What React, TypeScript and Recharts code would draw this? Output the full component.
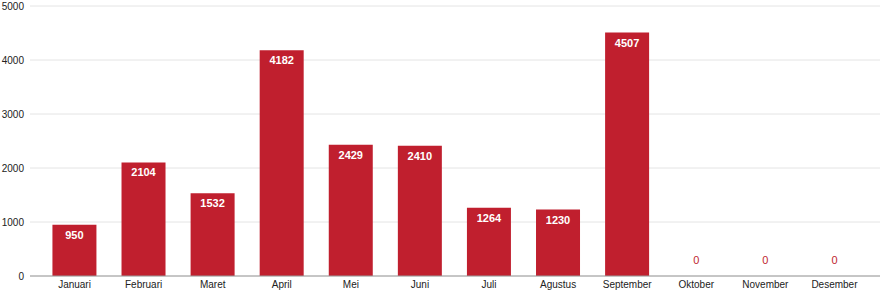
import React from 'react';
import { ComposedChart, Bar, Line, XAxis, YAxis, CartesianGrid, LabelList } from 'recharts';

const months = [
  'Januari', 'Februari', 'Maret', 'April', 'Mei', 'Juni',
  'Juli', 'Agustus', 'September', 'Oktober', 'November', 'Desember',
];
const totals = [950, 2104, 1532, 4182, 2429, 2410, 1264, 1230, 4507, 0, 0, 0];
const yTicks = [0, 1000, 2000, 3000, 4000, 5000];

const BAR_COLOR = '#c01f2e';
const FONT = '"Liberation Sans", Arial, sans-serif';

const chartData = months.map((name, i) => ({ name, total: totals[i] }));

// white label inside the top of each bar
const BarLabel = (props: any) => {
  const { x, y, width, value } = props;
  if (!value) return null;
  return (
    <text x={x + width / 2} y={y + 14} textAnchor="middle" fill="#ffffff" fontSize={11} fontWeight="bold" fontFamily={FONT}>
      {value}
    </text>
  );
};

// zero bars have no rect, so their label is hung on an invisible line
const ZeroLabel = (props: any) => {
  const { x, y, value } = props;
  if (value !== 0) return null;
  return (
    <text x={x} y={y - 12} textAnchor="middle" fill={BAR_COLOR} fontSize={11} fontFamily={FONT}>
      {value}
    </text>
  );
};

export default function App() {
  return (
    <div style={{ position: 'absolute', left: 0, top: 0, background: '#fff' }}>
      <ComposedChart
        width={880}
        height={295}
        data={chartData}
        margin={{ top: 6, right: 0, bottom: 0, left: 0 }}
        barCategoryGap="18%"
      >
        <CartesianGrid vertical={false} stroke="#e4e4e4" />
        <XAxis
          dataKey="name"
          height={19}
          padding={{ left: 10, right: 11 }}
          tickLine={false}
          tickSize={0}
          tickMargin={5}
          axisLine={{ stroke: '#9a9a9a' }}
          tick={{ fontSize: 10, fill: '#222', fontFamily: FONT }}
          interval={0}
        />
        <YAxis
          width={30}
          domain={[0, 5000]}
          ticks={yTicks}
          tickLine={false}
          axisLine={false}
          tickSize={0}
          tickMargin={6}
          tick={{ fontSize: 10, fill: '#222', fontFamily: FONT }}
        />
        <Bar dataKey="total" fill={BAR_COLOR} isAnimationActive={false}>
          <LabelList dataKey="total" content={BarLabel} />
        </Bar>
        <Line dataKey="total" stroke="none" dot={false} activeDot={false} isAnimationActive={false}>
          <LabelList dataKey="total" content={ZeroLabel} />
        </Line>
      </ComposedChart>
    </div>
  );
}
